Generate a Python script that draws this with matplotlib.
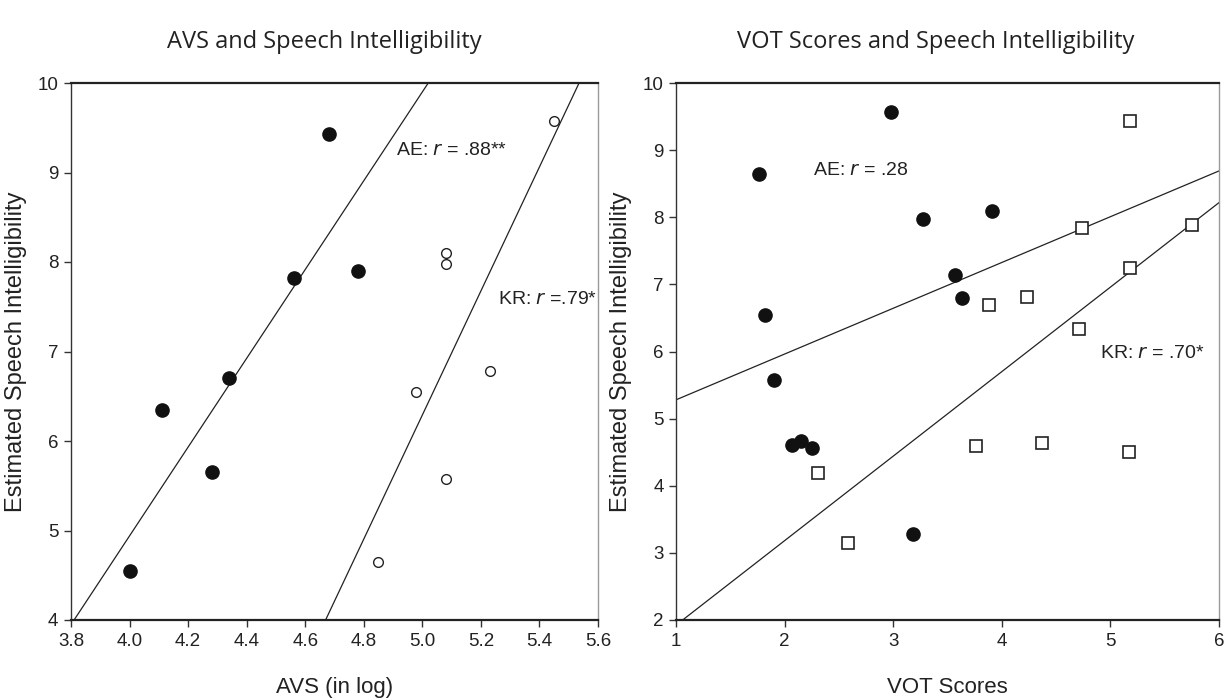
import matplotlib
matplotlib.use("Agg")
import matplotlib.pyplot as plt
import numpy as np

# ---- data: AVS panel ----
ae_avs_x = [4.00, 4.11, 4.28, 4.34, 4.56, 4.68, 4.78]
ae_avs_y = [4.55, 6.35, 5.65, 6.70, 7.82, 9.43, 7.90]
kr_avs_x = [4.85, 4.98, 5.08, 5.08, 5.08, 5.23, 5.45]
kr_avs_y = [4.65, 6.55, 8.10, 7.98, 5.57, 6.78, 9.57]
ae_avs_fit = [4.96, -14.90]    # slope, intercept
kr_avs_fit = [6.93, -28.36]

# ---- data: VOT panel ----
ae_vot_x = [1.76, 1.82, 1.90, 2.065, 2.155, 2.25, 2.98, 3.18, 3.27, 3.57, 3.63, 3.91]
ae_vot_y = [8.64, 6.55, 5.57, 4.60, 4.66, 4.56, 9.57, 3.28, 7.98, 7.14, 6.79, 8.10]
kr_vot_x = [2.31, 2.585, 3.76, 3.885, 4.235, 4.37, 4.71, 4.74, 5.18, 5.185, 5.17, 5.75]
kr_vot_y = [4.19, 3.15, 4.59, 6.70, 6.81, 4.64, 6.33, 7.84, 9.43, 7.25, 4.50, 7.89]
ae_vot_fit = [0.682, 4.598]
kr_vot_fit = [1.259, 0.664]

avs_xticks = [3.8, 4.0, 4.2, 4.4, 4.6, 4.8, 5.0, 5.2, 5.4, 5.6]
avs_yticks = [4, 5, 6, 7, 8, 9, 10]
vot_xticks = [1, 2, 3, 4, 5, 6]
vot_yticks = [2, 3, 4, 5, 6, 7, 8, 9, 10]

titles = ["AVS and Speech Intelligibility", "VOT Scores and Speech Intelligibility"]
xlabels = ["AVS (in log)", "VOT Scores"]
ylabel = "Estimated Speech Intelligibility"

narrow = ["Liberation Sans Narrow", "Liberation Sans", "DejaVu Sans"]
W, H = 1225, 700
fig = plt.figure(figsize=(W / 100, H / 100), dpi=100)


def make_ax(x0, x1, y0, y1):
    return fig.add_axes([x0 / W, 1 - y1 / H, (x1 - x0) / W, (y1 - y0) / H])


def style(ax):
    ax.spines["top"].set_color("#222222")
    ax.spines["top"].set_linewidth(1.6)
    ax.spines["bottom"].set_color("#222222")
    ax.spines["bottom"].set_linewidth(1.6)
    ax.spines["left"].set_color("#333333")
    ax.spines["left"].set_linewidth(1.0)
    ax.spines["right"].set_color("#999999")
    ax.spines["right"].set_linewidth(1.0)
    ax.tick_params(direction="out", length=5, width=1.0, color="#333333",
                   labelsize=13.5, pad=4)
    for lab in ax.get_xticklabels() + ax.get_yticklabels():
        lab.set_family(narrow)
        lab.set_color("#222222")


def fitline(ax, fit, xlo, xhi):
    xs = np.array([xlo, xhi])
    ax.plot(xs, fit[0] * xs + fit[1], color="#222222", lw=0.9)


# ---- left panel ----
ax1 = make_ax(71, 598, 83, 620)
ax1.set_xlim(3.8, 5.6)
ax1.set_ylim(4, 10)
fitline(ax1, ae_avs_fit, 3.7, 5.1)
fitline(ax1, kr_avs_fit, 4.6, 5.6)
ax1.plot(ae_avs_x, ae_avs_y, "o", ms=9.5, mfc="#111111", mec="#111111", ls="none")
ax1.plot(kr_avs_x, kr_avs_y, "o", ms=7, mfc="white", mec="#222222", mew=1.0, ls="none")
ax1.set_xticks(avs_xticks)
ax1.set_xticklabels([f"{v:.1f}" for v in avs_xticks])
ax1.set_yticks(avs_yticks)
ax1.set_yticklabels([str(v) for v in avs_yticks])
style(ax1)
ax1.text(4.91, 9.25, "AE: $\\it{r}$ = .88**", fontsize=14, family=narrow,
         va="center", ha="left", color="#222222")
ax1.text(5.26, 7.58, "KR: $\\it{r}$ =.79*", fontsize=14, family=narrow,
         va="center", ha="left", color="#222222")
ax1.set_xlabel(xlabels[0], fontsize=16, family=narrow, color="#222222", labelpad=20)
ax1.set_ylabel(ylabel, fontsize=17, family=["Liberation Sans", "DejaVu Sans"],
               color="#222222", labelpad=8)

# ---- right panel ----
ax2 = make_ax(676, 1219, 83, 620)
ax2.set_xlim(1, 6)
ax2.set_ylim(2, 10)
fitline(ax2, ae_vot_fit, 1, 6)
fitline(ax2, kr_vot_fit, 1, 6)
ax2.plot(ae_vot_x, ae_vot_y, "o", ms=9.5, mfc="#111111", mec="#111111", ls="none")
ax2.plot(kr_vot_x, kr_vot_y, "s", ms=8, mfc="white", mec="#222222", mew=1.2, ls="none")
ax2.set_xticks(vot_xticks)
ax2.set_xticklabels([str(v) for v in vot_xticks])
ax2.set_yticks(vot_yticks)
ax2.set_yticklabels([str(v) for v in vot_yticks])
style(ax2)
ax2.text(2.26, 8.70, "AE: $\\it{r}$ = .28", fontsize=14, family=narrow,
         va="center", ha="left", color="#222222")
ax2.text(4.90, 5.97, "KR: $\\it{r}$ = .70*", fontsize=14, family=narrow,
         va="center", ha="left", color="#222222")
ax2.set_xlabel(xlabels[1], fontsize=16, family=narrow, color="#222222", labelpad=20)
ax2.set_ylabel(ylabel, fontsize=17, family=["Liberation Sans", "DejaVu Sans"],
               color="#222222", labelpad=8)

fig.text(324 / W, 1 - 42 / H, titles[0], fontsize=17, family=["Open Sans", "DejaVu Sans"],
         ha="center", va="center", color="#222222")
fig.text(936 / W, 1 - 42 / H, titles[1], fontsize=17, family=["Open Sans", "DejaVu Sans"],
         ha="center", va="center", color="#222222")

fig.savefig("out.png", dpi=100)
